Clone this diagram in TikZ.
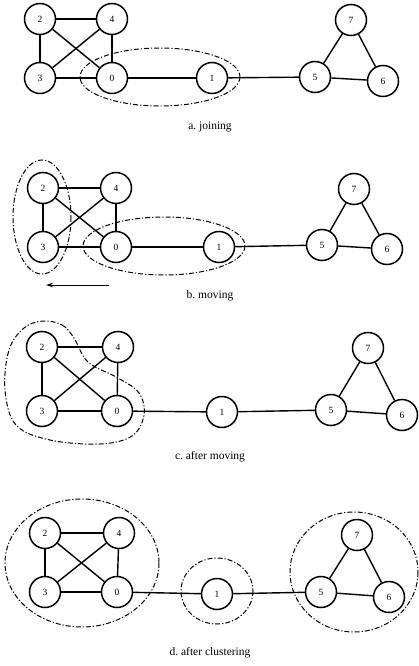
\documentclass[tikz,border=0pt]{standalone}
\usepackage{fontspec}
\setmainfont{Liberation Serif}
\usetikzlibrary{arrows.meta}
\tikzset{
  vtx/.style={draw, circle, line width=1.5pt, minimum size=31pt, inner sep=0pt, font=\fontsize{9.5}{10}\selectfont},
  edge/.style={line width=1.4pt},
  cluster/.style={line width=1pt, dash pattern=on 5pt off 2pt on 1.2pt off 2pt},
  caption/.style={font=\fontsize{11.5}{13}\selectfont}
}
\newcommand\graphedges[1]{\foreach \u/\v in {2/4,2/3,2/0,3/4,4/0,3/0,0/1,1/5,5/6,5/7,7/6}{\draw[edge] (#1\u) -- (#1\v);}}
\begin{document}
\begin{tikzpicture}[x=1pt,y=-1pt]
\useasboundingbox (0,0) rectangle (419,666);
% panel a
\node[vtx] (a2) at (40,19) {2};
\node[vtx] (a4) at (112,19) {4};
\node[vtx] (a3) at (40,78) {3};
\node[vtx] (a0) at (112,78) {0};
\node[vtx] (a1) at (212,78) {1};
\node[vtx] (a5) at (315,77) {5};
\node[vtx] (a6) at (383,81) {6};
\node[vtx] (a7) at (351,20) {7};
\graphedges{a}
\draw[cluster] (160,77) ellipse [x radius=80, y radius=29];
\node[caption] (capa) at (210,127) {a.\ joining};
% panel b
\node[vtx] (b2) at (43,188) {2};
\node[vtx] (b4) at (116,188) {4};
\node[vtx] (b3) at (43,247) {3};
\node[vtx] (b0) at (116,247) {0};
\node[vtx] (b1) at (219,247) {1};
\node[vtx] (b5) at (322,245) {5};
\node[vtx] (b6) at (387,249) {6};
\node[vtx] (b7) at (354,189) {7};
\graphedges{b}
\draw[cluster] (42,217) ellipse [x radius=29, y radius=57];
\draw[cluster] (164,246) ellipse [x radius=81, y radius=29];
\coordinate (arrs) at (109,285);
\coordinate (arre) at (46,285);
\draw[line width=1pt,-{Stealth[length=7pt,width=4.5pt]}] (arrs) -- (arre);
\node[caption] (capb) at (210,296) {b.\ moving};
% panel c
\node[vtx] (c2) at (42,347) {2};
\node[vtx] (c4) at (118,347) {4};
\node[vtx] (c3) at (42,411) {3};
\node[vtx] (c0) at (117,411) {0};
\node[vtx] (c1) at (222,412) {1};
\node[vtx] (c5) at (331,410) {5};
\node[vtx] (c6) at (402,415) {6};
\node[vtx] (c7) at (368,348) {7};
\graphedges{c}
\draw[cluster] plot[smooth cycle, tension=0.6] coordinates {(43,321) (62,325) (74,338) (88,362) (118,378) (139,393) (144,415) (132,436) (100,444) (50,440) (16,425) (5,390) (9,350) (24,328)};
\node[caption] (capc) at (210,457) {c.\ after moving};
% panel d
\node[vtx] (d2) at (45,533) {2};
\node[vtx] (d4) at (119,533) {4};
\node[vtx] (d3) at (45,592) {3};
\node[vtx] (d0) at (117,592) {0};
\node[vtx] (d1) at (217,594) {1};
\node[vtx] (d5) at (321,592) {5};
\node[vtx] (d6) at (389,597) {6};
\node[vtx] (d7) at (357,535) {7};
\graphedges{d}
\draw[cluster] (82,563) ellipse [x radius=77, y radius=64];
\draw[cluster] (217,591) ellipse [x radius=36, y radius=33];
\draw[cluster] (354,572) ellipse [x radius=64, y radius=60];
\node[caption] (capd) at (210,653) {d.\ after clustering};
\end{tikzpicture}
\end{document}
